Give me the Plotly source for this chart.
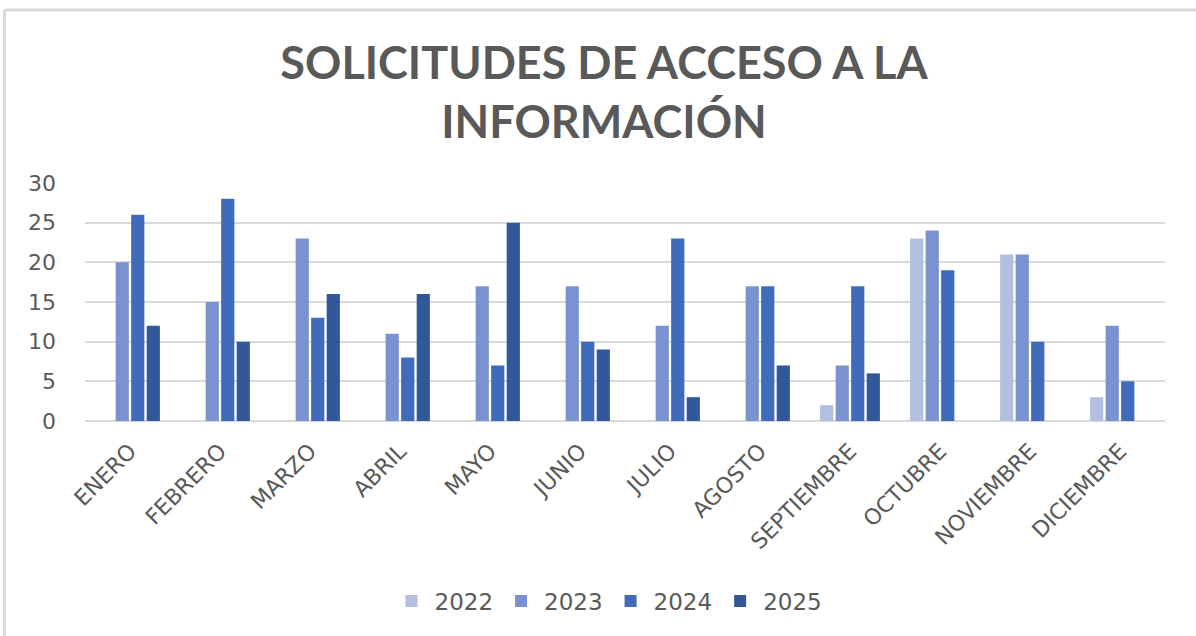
import plotly.graph_objects as go

months = ["ENERO", "FEBRERO", "MARZO", "ABRIL", "MAYO", "JUNIO", "JULIO",
          "AGOSTO", "SEPTIEMBRE", "OCTUBRE", "NOVIEMBRE", "DICIEMBRE"]
years = ["2022", "2023", "2024", "2025"]
v2022 = [None, None, None, None, None, None, None, None, 2, 23, 21, 3]
v2023 = [20, 15, 23, 11, 17, 17, 12, 17, 7, 24, 21, 12]
v2024 = [26, 28, 13, 8, 7, 10, 23, 17, 17, 19, 10, 5]
v2025 = [12, 10, 16, 16, 25, 9, 3, 7, 6, None, None, None]
colors = ["#b3bfe0", "#7a93d0", "#3f6bba", "#32589a"]

fig = go.Figure()
for name, vals, col in zip(years, [v2022, v2023, v2024, v2025], colors):
    fig.add_trace(go.Bar(x=months, y=vals, name=name,
                         marker=dict(color=col, line=dict(width=0))))

W, H = 1196, 636
# plot area in screenshot coordinates
X0, X1, Y0, Y1 = 85, 1165, 183, 421
L, R, T, B = X0, W - X1, Y0, H - Y1
pw, ph = X1 - X0, Y1 - Y0


def px(x):
    return (x - X0) / pw


def py(y):
    return (Y1 - y) / ph


fig.update_layout(
    width=W, height=H,
    margin=dict(l=L, r=R, t=T, b=B),
    paper_bgcolor="white", plot_bgcolor="white",
    barmode="group", bargap=0.31, bargroupgap=0.15,
    font=dict(family="DejaVu Sans", color="#595959"),
    title=dict(text="SOLICITUDES DE ACCESO A LA<br>INFORMACIÓN",
               x=604 / W, xanchor="center",
               y=1 - 79 / H, yanchor="middle",
               font=dict(family="Lato", size=45, color="#595959", weight="bold")),
    legend=dict(orientation="h", x=px(608), xanchor="center",
                y=py(601), yanchor="middle",
                font=dict(family="DejaVu Sans", size=23, color="#595959"),
                itemwidth=36, traceorder="normal"),
    xaxis=dict(tickangle=-45,
               tickfont=dict(family="DejaVu Sans", size=22, color="#595959"),
               showgrid=False, showline=False, ticks="",
               ticklabelstandoff=12),
    yaxis=dict(range=[0, 30], dtick=5, showgrid=True, gridcolor="#d9d9d9",
               gridwidth=2, zeroline=True, zerolinecolor="#d9d9d9", zerolinewidth=2,
               showline=False,
               tickfont=dict(family="DejaVu Sans", size=22, color="#595959"),
               ticklabelstandoff=28),
    shapes=[
        dict(type="line", xref="paper", yref="paper",
             x0=px(4.5), x1=px(4.5), y0=py(10), y1=py(660),
             line=dict(color="#d9d9d9", width=3)),
        dict(type="line", xref="paper", yref="paper",
             x0=px(4.5), x1=px(1220), y0=py(10), y1=py(10),
             line=dict(color="#d9d9d9", width=3)),
    ],
)

fig.write_html("out.html", config={"displayModeBar": False},
               post_script="document.body.style.margin='0px';")
